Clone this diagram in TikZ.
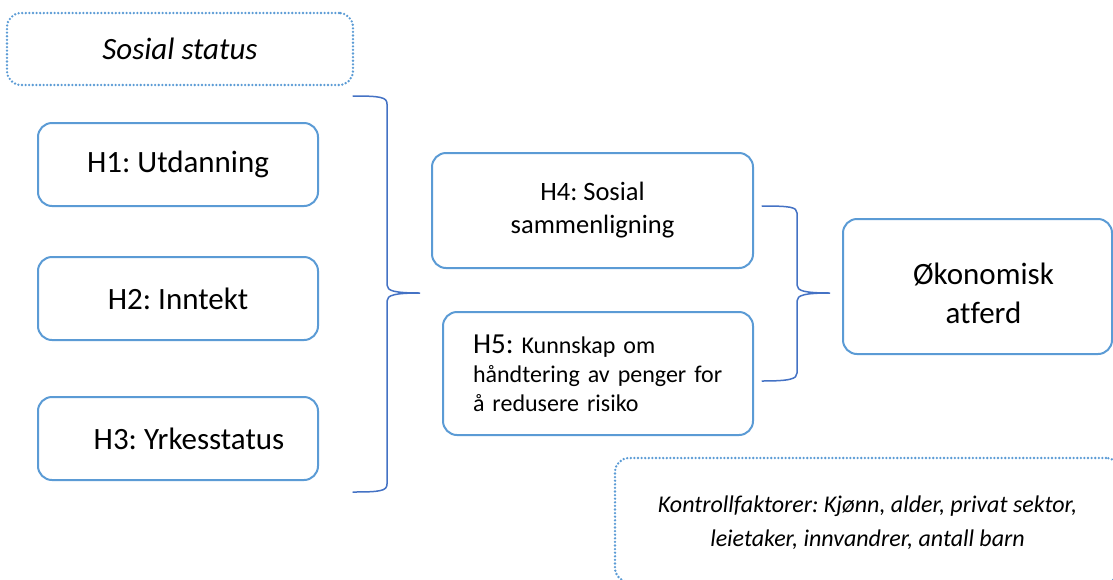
\documentclass[tikz,border=0pt]{standalone}
\usepackage{fontspec}
\setmainfont[Ligatures=NoCommon]{Carlito}
\frenchspacing
\definecolor{boxblue}{HTML}{5B9BD5}
\definecolor{braceblue}{HTML}{4472C4}
\newcommand{\fsz}[2]{\fontsize{#1}{#2}\selectfont}
\tikzset{
  hypbox/.style={draw=boxblue, line width=2pt, rounded corners=14pt, inner sep=0pt, align=center},
  dotbox/.style={draw=boxblue, line width=2.6pt, dash pattern=on 0pt off 3.6pt, line cap=round, rounded corners=14pt, inner sep=0pt, align=center},
  bracket/.style={draw=braceblue, line width=1.5pt, line cap=round}
}

\begin{document}
\begin{tikzpicture}[x=1pt,y=-1pt]
\clip (0,0) rectangle (1113,579);
% status og hypoteser
\node[dotbox, minimum width=346pt, minimum height=72pt, font={\fsz{31}{38}\itshape}] (status) at (180,49) {Sosial status};
\node[hypbox, minimum width=280pt, minimum height=83pt, font={\fsz{31}{38}}] (h1) at (178,164.5) {H1: Utdanning};
\node[hypbox, minimum width=280pt, minimum height=83pt, font={\fsz{31}{38}}] (h2) at (178,298.5) {H2: Inntekt};
\node[hypbox, minimum width=280pt, minimum height=83pt, font={\fsz{31}{38}}] (h3) at (178,438.5) {\hspace*{22pt}H3: Yrkesstatus};
% mekanismer
\node[hypbox, minimum width=321pt, minimum height=115pt, font={\fsz{26.5}{33}}] (h4) at (592.5,210.5) {H4: Sosial\\sammenligning};
\node[hypbox, minimum width=310pt, minimum height=123pt, text width=250pt, align=left, font={\fsz{24}{29}}] (h5) at (598,373.5) {{\fsz{29}{29}H5:} Kunnskap om\\håndtering av penger for\\å redusere risiko};
% utfall
\node[hypbox, minimum width=269pt, minimum height=135pt, font={\fsz{31}{39}}] (atferd) at (977.5,286.5) {\hspace*{12pt}\rule{0pt}{36pt}Økonomisk\\\hspace*{12pt}atferd};
\node[dotbox, minimum width=505pt, minimum height=124pt, font={\fsz{24}{34}\itshape}] (kontroll) at (867.5,520) {\rule{0pt}{22pt}Kontrollfaktorer: Kjønn, alder, privat sektor,\\leietaker, innvandrer, antall barn};
% klammer
\coordinate (lb top) at (353,96);
\coordinate (lb tip) at (420,293);
\coordinate (lb bot) at (353,492);
\coordinate (rb top) at (762,206);
\coordinate (rb tip) at (830,293);
\coordinate (rb bot) at (762,381);
\draw[bracket] (lb top) .. controls (380,96) and (387,97) .. (387,104) -- (387,285)
  .. controls (387,291) and (395,293) .. (lb tip)
  .. controls (395,293) and (387,295) .. (387,301) -- (387,484)
  .. controls (387,491) and (380,492) .. (lb bot);
\draw[bracket] (rb top) .. controls (790,206) and (797,207) .. (797,213) -- (797,285)
  .. controls (797,291) and (805,293) .. (rb tip)
  .. controls (805,293) and (797,295) .. (797,301) -- (797,373)
  .. controls (797,379) and (790,381) .. (rb bot);
\end{tikzpicture}
\end{document}
